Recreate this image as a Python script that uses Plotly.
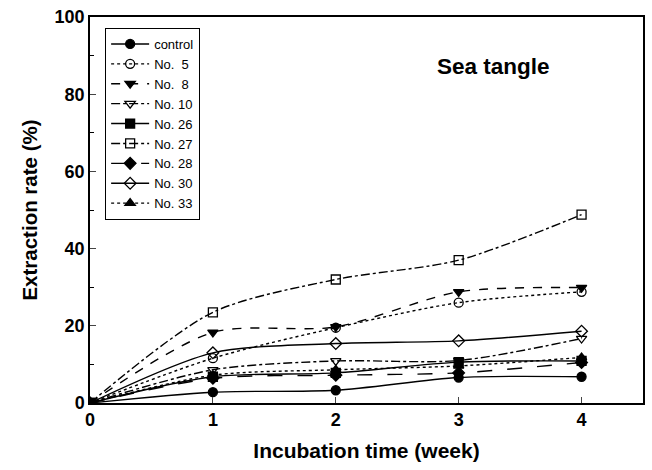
import plotly.graph_objects as go

weeks = [0, 1, 2, 3, 4]
series_names = ["control", "No.  5", "No.  8", "No. 10", "No. 26", "No. 27", "No. 28", "No. 30", "No. 33"]
control = [0, 2.8, 3.3, 6.6, 6.8]
no5 = [0, 11.6, 19.5, 26.0, 28.8]
no8 = [0, 18.3, 19.7, 28.8, 29.9]
no10 = [0, 8.6, 10.9, 11.0, 16.7]
no26 = [0, 6.8, 7.8, 10.6, 10.9]
no27 = [0, 23.5, 32.0, 37.0, 48.8]
no28 = [0, 6.4, 7.2, 7.8, 10.5]
no30 = [0, 13.0, 15.4, 16.1, 18.6]
no33 = [0, 7.2, 8.6, 9.6, 11.8]

data = [control, no5, no8, no10, no26, no27, no28, no30, no33]
symbols = ["circle", "circle-open", "triangle-down", "triangle-down-open", "square",
           "square-open", "diamond", "diamond-open", "triangle-up"]
dashes = ["solid", "dot", "dash", "dashdot", "solid", "dashdot", "longdash", "solid", "dot"]

fig = go.Figure()
for name, y, sym, d in zip(series_names, data, symbols, dashes):
    fig.add_trace(go.Scatter(
        x=weeks, y=y, name=name, mode="lines+markers",
        line=dict(color="black", width=1.4, dash=d, shape="spline", smoothing=0.8),
        marker=dict(symbol=sym, size=9, color="black", line=dict(color="black", width=1.3)),
    ))

tick_font = dict(size=18, family="Liberation Sans, Arial", weight="bold", color="black")

fig.update_layout(
    width=652, height=470,
    margin=dict(l=90, r=7, t=16, b=67),
    paper_bgcolor="white", plot_bgcolor="white",
    font=dict(family="Liberation Sans, Arial, sans-serif", color="black"),
    showlegend=True,
    legend=dict(x=0.027, y=0.972, xanchor="left", yanchor="top",
                bordercolor="black", borderwidth=1.2, bgcolor="white",
                font=dict(size=13), itemwidth=38, tracegroupgap=0),
    xaxis=dict(range=[0, 4.5], tickvals=[0, 1, 2, 3, 4], ticks="inside", ticklen=6,
               showline=True, linecolor="black", linewidth=1.5, mirror=True,
               showgrid=False, zeroline=False, tickfont=tick_font,
               title=dict(text="<b>Incubation time (week)</b>", font=dict(size=21), standoff=14)),
    yaxis=dict(range=[0, 100], tickvals=[0, 20, 40, 60, 80, 100], ticks="inside", ticklen=6,
               minor=dict(tickvals=[10, 30, 50, 70, 90], ticks="inside", ticklen=4, tickcolor="black"),
               showline=True, linecolor="black", linewidth=1.5, mirror=True,
               showgrid=False, zeroline=False, tickfont=tick_font,
               title=dict(text="<b>Extraction rate (%)</b>", font=dict(size=20.5), standoff=11)),
    annotations=[dict(text="<b>Sea tangle</b>", x=0.836, y=0.91, xref="paper", yref="paper",
                      showarrow=False, font=dict(size=22.5, color="black"))],
)

fig.write_html("out.html")
